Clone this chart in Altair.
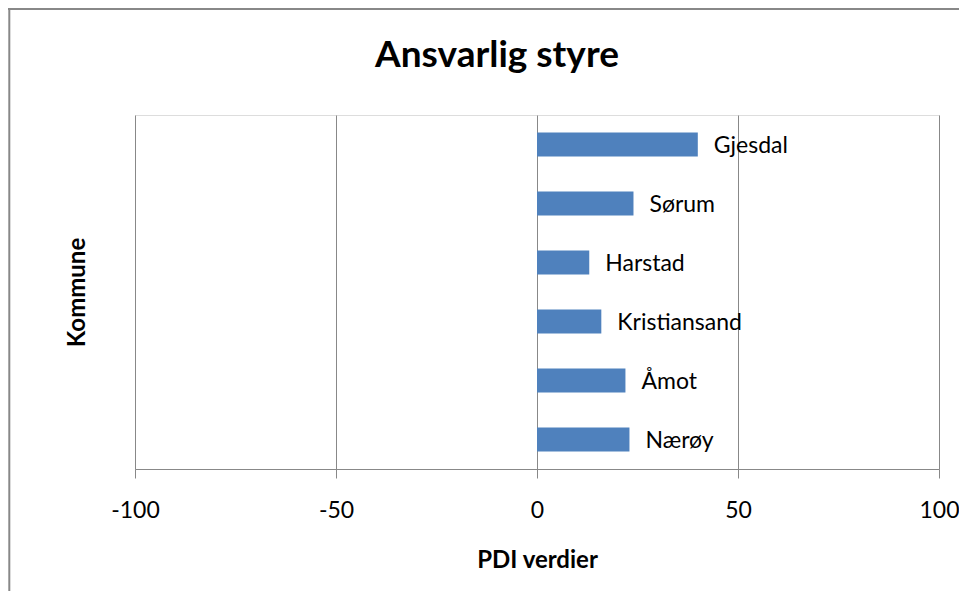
import altair as alt
import pandas as pd

kommuner = ["Gjesdal", "Sørum", "Harstad", "Kristiansand", "Åmot", "Nærøy"]
pdi_verdier = [40, 24, 13, 16, 22, 23]
x_ticks = [-100, -50, 0, 50, 100]

df = pd.DataFrame({"Kommune": kommuner, "PDI": pdi_verdier})
frame_df = pd.DataFrame({"k": [0]})

FONT = "Lato"
GRAY = "#888888"

x_enc = alt.X(
    "PDI:Q",
    scale=alt.Scale(domain=[-100, 100], nice=False, zero=False),
    axis=alt.Axis(
        values=x_ticks,
        title="PDI verdier",
        labelExpr="datum.value + ''",
        grid=True,
        gridColor=GRAY,
        gridOpacity=1,
        gridWidth=1,
        domainColor=GRAY,
        domainWidth=1,
        tickColor=GRAY,
        tickSize=9,
        labelFont=FONT,
        labelFontSize=23,
        labelColor="#000000",
        labelPadding=21,
        labelFlush=False,
        titleFont=FONT,
        titleFontSize=24,
        titleFontWeight="bold",
        titleColor="#000000",
        titleY=91,
        titleBaseline="middle",
    ),
)

y_enc = alt.Y(
    "Kommune:N",
    sort=kommuner,
    scale=alt.Scale(paddingInner=0.59, paddingOuter=0.295),
    axis=alt.Axis(
        title="Kommune",
        labels=False,
        ticks=False,
        domain=False,
        grid=False,
        titleFont=FONT,
        titleFontSize=24,
        titleFontWeight="bold",
        titleColor="#000000",
        titleAngle=-90,
        titleX=-58,
        titleY=177,
        titleAlign="center",
        titleBaseline="middle",
    ),
)

bars = alt.Chart(df).mark_bar(color="#4F81BD").encode(x=x_enc, x2=alt.datum(0), y=y_enc)

labels = alt.Chart(df).mark_text(
    align="left", baseline="middle", dx=16, dy=1.5, font=FONT, fontSize=23, color="#000000"
).encode(x="PDI:Q", y=alt.Y("Kommune:N", sort=kommuner), text="Kommune:N")

frame_left = alt.Chart(frame_df).mark_rule(color=GRAY, strokeWidth=2).encode(
    x=alt.value(-125.7), y=alt.value(-108), y2=alt.value(490)
)
frame_top = alt.Chart(frame_df).mark_rule(color=GRAY, strokeWidth=2).encode(
    x=alt.value(-127), x2=alt.value(830), y=alt.value(-106)
)

chart = (
    alt.layer(bars, labels, frame_left, frame_top)
    .properties(
        width=804,
        height=354,
        title=alt.TitleParams(
            "Ansvarlig styre",
            font=FONT,
            fontSize=37,
            fontWeight="bold",
            color="#000000",
            anchor="middle",
            dx=-40,
            offset=-69,
        ),
        autosize=alt.AutoSizeParams(type="none"),
        padding={"left": 127, "top": 107, "right": 20, "bottom": 122},
    )
    .configure_view(stroke=None)
    .configure(background="white")
)

chart.save("out.html", embed_options={"renderer": "svg", "actions": False})
